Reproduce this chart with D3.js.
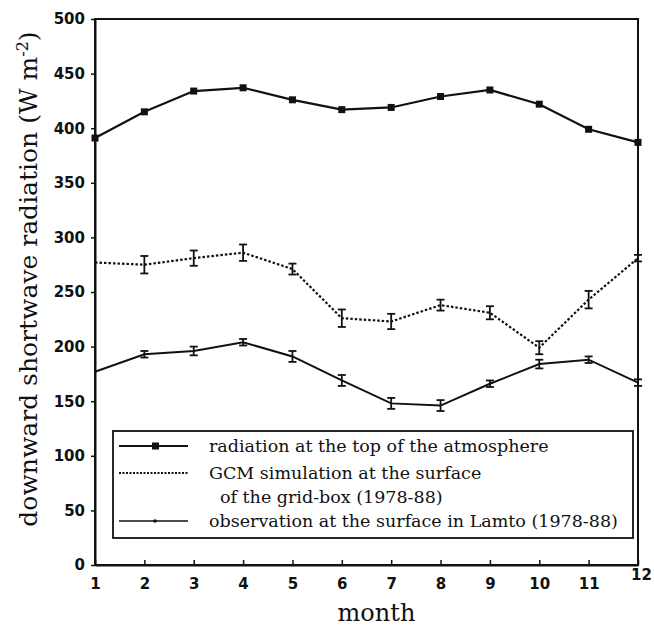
<!DOCTYPE html>
<html>
<head>
<meta charset="utf-8">
<script src="https://cdn.jsdelivr.net/npm/d3@7"></script>
<style>
  body { margin: 0; background: #fff; }
  svg { display: block; }
</style>
</head>
<body>
<svg id="chart"></svg>
<script>
// monthly downward shortwave radiation, Lamto
const months = [1, 2, 3, 4, 5, 6, 7, 8, 9, 10, 11, 12];
const toaValues = [391, 415, 434, 437, 426, 417, 419, 429, 435, 422, 399, 387];
const gcmValues = [277, 275, 281, 286, 271, 226, 223, 238, 231, 199, 243, 281];
const gcmErrors = [0, 8, 7, 7.5, 5, 8, 7, 5, 6, 6, 8, 3];
const obsValues = [177, 193, 196, 204, 191, 169, 148, 146, 166, 184, 188, 167];
const obsErrors = [0, 3, 4, 3, 5, 5, 5, 5, 3, 4, 3, 3];
const yTicks = [0, 50, 100, 150, 200, 250, 300, 350, 400, 450, 500];
const legendLabels = [
  ["radiation at the top of the atmosphere"],
  ["GCM simulation at the surface", "of the grid-box (1978-88)"],
  ["observation at the surface in Lamto (1978-88)"]
];

const W = 654, H = 626;
const margin = { top: 19, right: 16, bottom: 61, left: 95 },
      width = W - margin.left - margin.right,
      height = H - margin.top - margin.bottom;

const serif = "DejaVu Serif, serif";
const sans = "DejaVu Sans, sans-serif";

const svg = d3.select("#chart").attr("width", W).attr("height", H);
const g = svg.append("g").attr("transform", `translate(${margin.left},${margin.top})`);

const x = d3.scaleLinear().domain([1, 12]).range([0, width]);
const y = d3.scaleLinear().domain([0, 500]).range([height, 0]);

// frame
g.append("rect")
  .attr("width", width).attr("height", height)
  .attr("fill", "none").attr("stroke", "#111").attr("stroke-width", 2);

// axes
const xAxis = g.append("g")
  .attr("transform", `translate(0,${height})`)
  .call(d3.axisBottom(x).tickValues(months).tickSizeInner(-5).tickSizeOuter(0).tickPadding(13));
const yAxis = g.append("g")
  .call(d3.axisLeft(y).tickValues(yTicks).tickSizeInner(4).tickSizeOuter(0).tickPadding(6));

[xAxis, yAxis].forEach(a => {
  a.select(".domain").attr("stroke", "#111").attr("stroke-width", 2);
  a.selectAll(".tick line").attr("stroke", "#111").attr("stroke-width", 1.5);
  a.selectAll(".tick text")
    .attr("fill", "#111")
    .style("font-family", sans)
    .style("font-weight", "bold")
    .style("font-size", "15px");
});
// the "12" label sits a little higher and to the right
xAxis.selectAll(".tick text").filter(d => d === 12).attr("dx", 3).attr("dy", "0.1em");

// lines
const line = d3.line().x((d, i) => x(months[i])).y(d => y(d));

g.append("path").datum(toaValues)
  .attr("fill", "none").attr("stroke", "#111").attr("stroke-width", 2.2)
  .attr("d", line);

g.append("path").datum(gcmValues)
  .attr("fill", "none").attr("stroke", "#111").attr("stroke-width", 2.2)
  .attr("stroke-dasharray", "2.5,2")
  .attr("d", line);

g.append("path").datum(obsValues)
  .attr("fill", "none").attr("stroke", "#111").attr("stroke-width", 2)
  .attr("d", line);

// square markers
g.selectAll(".sq").data(toaValues).join("rect")
  .attr("x", (d, i) => x(months[i]) - 3.5)
  .attr("y", d => y(d) - 3.5)
  .attr("width", 7).attr("height", 7)
  .attr("fill", "#111");

// error bars with caps
function errorBars(values, errors, cls) {
  g.selectAll("." + cls).data(values).join("g").attr("class", cls)
    .each(function(d, i) {
      const e = errors[i];
      if (!e) return;
      const cx = x(months[i]);
      const s = d3.select(this);
      s.append("line").attr("x1", cx).attr("x2", cx).attr("y1", y(d - e)).attr("y2", y(d + e));
      s.append("line").attr("x1", cx - 4).attr("x2", cx + 4).attr("y1", y(d - e)).attr("y2", y(d - e));
      s.append("line").attr("x1", cx - 4).attr("x2", cx + 4).attr("y1", y(d + e)).attr("y2", y(d + e));
      s.selectAll("line").attr("stroke", "#111").attr("stroke-width", 1.8);
    });
}
errorBars(gcmValues, gcmErrors, "gcmerr");
errorBars(obsValues, obsErrors, "obserr");

// legend
const lg = svg.append("g").attr("transform", "translate(113,431)");
lg.append("rect").attr("width", 520).attr("height", 107)
  .attr("fill", "#fff").attr("stroke", "#111").attr("stroke-width", 1.8);

const rowY = [15, 42, 90];
const styles = [
  { dash: null, w: 2, marker: "square" },
  { dash: "2,1.5", w: 2, marker: null },
  { dash: null, w: 1.5, marker: "dot" }
];
styles.forEach((s, i) => {
  const ly = rowY[i];
  const ln = lg.append("line")
    .attr("x1", 6).attr("x2", 75).attr("y1", ly).attr("y2", ly)
    .attr("stroke", "#111").attr("stroke-width", s.w);
  if (s.dash) ln.attr("stroke-dasharray", s.dash);
  if (s.marker === "square") {
    lg.append("rect").attr("x", 39).attr("y", ly - 3.5).attr("width", 7).attr("height", 7).attr("fill", "#111");
  } else if (s.marker === "dot") {
    lg.append("circle").attr("cx", 42).attr("cy", ly).attr("r", 1.8).attr("fill", "#111");
  }
  legendLabels[i].forEach((t, j) => {
    lg.append("text")
      .attr("x", j === 0 ? 96 : 107)
      .attr("y", ly + 6 + j * 24)
      .style("font-family", serif)
      .style("font-size", "17.5px")
      .attr("fill", "#111")
      .text(t);
  });
});

// axis titles
svg.append("text")
  .attr("x", margin.left + width / 2 + 10)
  .attr("y", 621)
  .attr("text-anchor", "middle")
  .style("font-family", serif)
  .style("font-size", "24px")
  .attr("fill", "#111")
  .text("month");

const yl = svg.append("text")
  .attr("text-anchor", "middle")
  .attr("transform", "translate(37,279) rotate(-90)")
  .style("font-family", serif)
  .style("font-size", "25px")
  .attr("fill", "#111");
yl.append("tspan").text("downward shortwave radiation (W m");
yl.append("tspan").attr("baseline-shift", "super").style("font-size", "16px").text("-2");
yl.append("tspan").text(")");
</script>
</body>
</html>
